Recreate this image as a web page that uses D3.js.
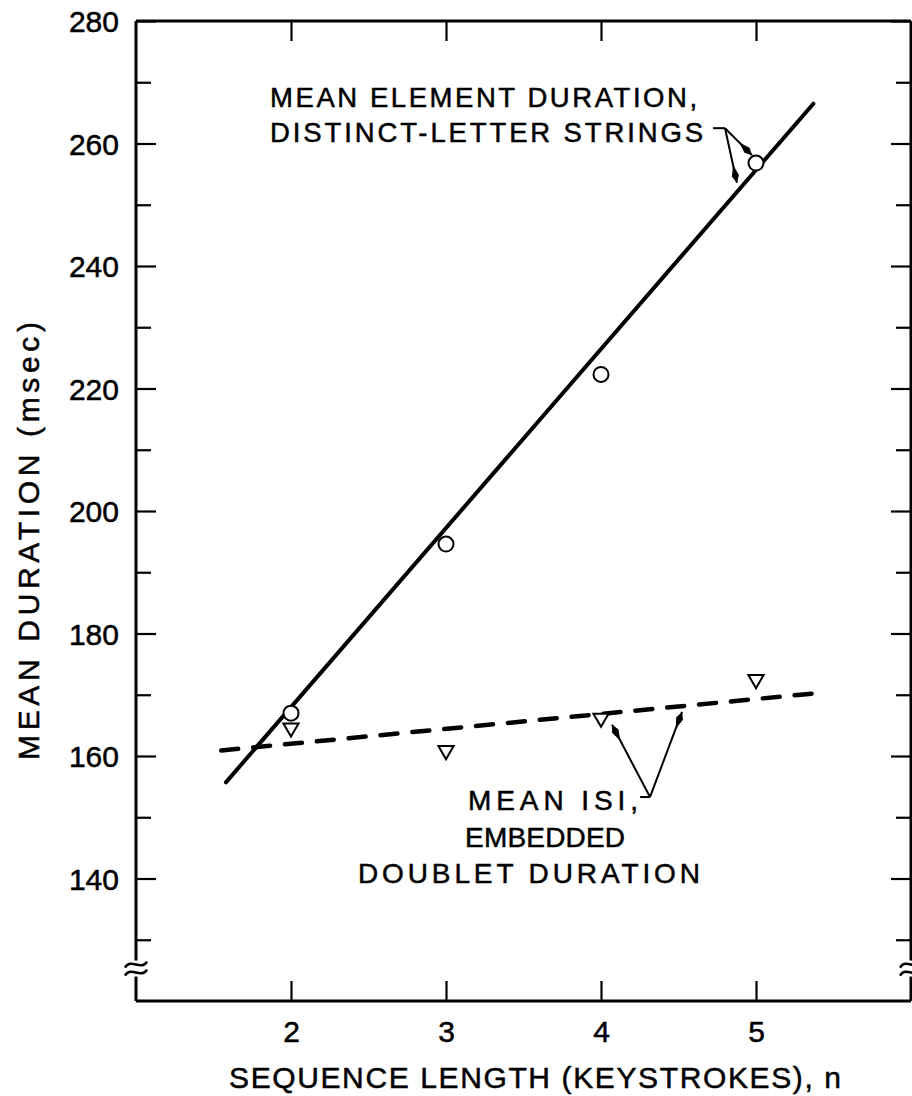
<!DOCTYPE html>
<html>
<head>
<meta charset="utf-8">
<script src="https://cdn.jsdelivr.net/npm/d3@7/dist/d3.min.js"></script>
<style>
html,body{margin:0;padding:0;background:#fff;}
svg{display:block;}
text{font-family:"Liberation Sans",Arial,Helvetica,sans-serif;fill:#000;stroke:#000;stroke-width:0.5px;}
</style>
</head>
<body>
<svg id="chart" width="912" height="1096"></svg>
<script>
// ---- data ----
const seqLength = [2, 3, 4, 5];
const elementDuration = [167.0, 194.6, 222.3, 256.8];   // circles
const isiDuration = [164.6, 160.9, 166.2, 172.5];       // triangles
const elementFit = [[1.58, 155.7], [5.37, 266.5]];      // solid regression line
const isiFit = [[1.55, 160.9], [5.41, 170.3]];          // dashed regression line
const yMajorTicks = [140, 160, 180, 200, 220, 240, 260, 280];
const yMinorTicks = [130, 150, 170, 190, 210, 230, 250, 270];
const xTicks = [2, 3, 4, 5];
const yTitle = "MEAN DURATION (msec)";
const xTitle = "SEQUENCE LENGTH (KEYSTROKES), n";
const labelElement = ["MEAN ELEMENT DURATION,", "DISTINCT-LETTER STRINGS"];
const labelIsi = ["MEAN ISI,", "EMBEDDED", "DOUBLET DURATION"];

// ---- layout ----
const svg = d3.select("#chart");
const x = d3.scaleLinear().domain([1, 6]).range([136, 911]);
const y = d3.scaleLinear().domain([120, 280]).range([1001, 21]);
const X0 = x(1), X1 = x(6), Y0 = y(120), Y1 = y(280);

// frame
const frame = svg.append("g").attr("stroke", "#000").attr("stroke-width", 3).attr("fill", "none");
frame.append("line").attr("x1", X0).attr("x2", X1).attr("y1", Y1).attr("y2", Y1);
frame.append("line").attr("x1", X0).attr("x2", X1).attr("y1", Y0).attr("y2", Y0);
frame.append("line").attr("x1", X0).attr("x2", X0).attr("y1", Y1).attr("y2", Y0);
frame.append("line").attr("x1", X1).attr("x2", X1).attr("y1", Y1).attr("y2", Y0);

function styleAxis(g) {
  g.select(".domain").remove();
  g.selectAll(".tick line").attr("stroke", "#000").attr("stroke-width", 2.2);
}
const tickFont = g => g.selectAll(".tick text").attr("font-size", 30)
  .attr("font-family", "Liberation Sans, Arial, sans-serif")
  .attr("stroke", "#000").attr("stroke-width", 0.5);
// left
svg.append("g").attr("transform", `translate(${X0},0)`)
  .call(d3.axisLeft(y).tickValues(yMajorTicks).tickSize(-20).tickPadding(17).tickFormat(d3.format("d")))
  .call(styleAxis).call(tickFont)
  .call(g => g.selectAll(".tick text").attr("dy", "0.36em"));
svg.append("g").attr("transform", `translate(${X0},0)`)
  .call(d3.axisLeft(y).tickValues(yMinorTicks).tickSize(-15).tickFormat(""))
  .call(styleAxis);
// right
svg.append("g").attr("transform", `translate(${X1},0)`)
  .call(d3.axisRight(y).tickValues(yMajorTicks).tickSize(-20).tickFormat(""))
  .call(styleAxis);
svg.append("g").attr("transform", `translate(${X1},0)`)
  .call(d3.axisRight(y).tickValues(yMinorTicks).tickSize(-15).tickFormat(""))
  .call(styleAxis);
// bottom
svg.append("g").attr("transform", `translate(0,${Y0})`)
  .call(d3.axisBottom(x).tickValues(xTicks).tickSize(-20).tickPadding(38).tickFormat(d3.format("d")))
  .call(styleAxis).call(tickFont)
  .call(g => g.selectAll(".tick text").attr("dy", "0.1em"));
// top
svg.append("g").attr("transform", `translate(0,${Y1})`)
  .call(d3.axisTop(x).tickValues(xTicks).tickSize(-20).tickFormat(""))
  .call(styleAxis);

// axis break squiggles
function squiggle(cx, cy) {
  const p = d3.path();
  for (const off of [-4, 4]) {
    p.moveTo(cx - 11, cy + off + 3);
    p.bezierCurveTo(cx - 5, cy + off - 7, cx + 5, cy + off + 7, cx + 11, cy + off - 3);
  }
  return p.toString();
}
const breakVal = 125.3;
svg.append("rect").attr("x", X0 - 2).attr("y", y(breakVal) - 8).attr("width", 4).attr("height", 16).attr("fill", "#fff");
svg.append("rect").attr("x", X1 - 2).attr("y", y(breakVal) - 8).attr("width", 4).attr("height", 16).attr("fill", "#fff");
svg.append("path").attr("d", squiggle(X0, y(breakVal))).attr("fill", "none").attr("stroke", "#000").attr("stroke-width", 2.5);
svg.append("path").attr("d", squiggle(X1, y(breakVal))).attr("fill", "none").attr("stroke", "#000").attr("stroke-width", 2.5);

// regression lines
const line = d3.line().x(d => x(d[0])).y(d => y(d[1]));
svg.append("path").datum(elementFit).attr("d", line)
  .attr("fill", "none").attr("stroke", "#000").attr("stroke-width", 4).attr("stroke-linecap", "round");
svg.append("path").datum(isiFit).attr("d", line)
  .attr("fill", "none").attr("stroke", "#000").attr("stroke-width", 4.5)
  .attr("stroke-dasharray", "17,15").attr("stroke-linecap", "round");

// markers: circles
svg.append("g").selectAll("circle").data(seqLength).join("circle")
  .attr("cx", d => x(d)).attr("cy", (d, i) => y(elementDuration[i]))
  .attr("r", 7.5).attr("fill", "#fff").attr("stroke", "#000").attr("stroke-width", 2);
// markers: inverted triangles
const tri = d3.symbol().type(d3.symbolTriangle).size(100);
svg.append("g").selectAll("path").data(seqLength).join("path")
  .attr("transform", (d, i) => `translate(${x(d)},${y(isiDuration[i])}) rotate(180)`)
  .attr("d", tri).attr("fill", "#fff").attr("stroke", "#000").attr("stroke-width", 2);

// arrowhead marker
svg.append("defs").append("marker")
  .attr("id", "arr").attr("markerUnits", "userSpaceOnUse")
  .attr("viewBox", "-20 -5 22 10").attr("refX", 0).attr("refY", 0)
  .attr("markerWidth", 22).attr("markerHeight", 10).attr("orient", "auto")
  .append("path").attr("d", "M0,0 L-7,-3.6 L-18,0 L-7,3.6 Z").attr("fill", "#000");

// annotations (data coordinates)
const elemLeader = { from: [4.723, 262.5], elbow: [4.80, 262.5], tips: [[4.974, 258.1], [4.877, 253.6]] };
const isiLeader = { from: [4.252, 153.3], elbow: [4.316, 153.3], tips: [[4.071, 165.1], [4.523, 167.2]] };
function leader(L) {
  const g = svg.append("g").attr("stroke", "#000").attr("stroke-width", 2).attr("fill", "none");
  g.append("line").attr("x1", x(L.from[0])).attr("y1", y(L.from[1])).attr("x2", x(L.elbow[0])).attr("y2", y(L.elbow[1]));
  L.tips.forEach(t => g.append("line")
    .attr("x1", x(L.elbow[0])).attr("y1", y(L.elbow[1])).attr("x2", x(t[0])).attr("y2", y(t[1]))
    .attr("marker-end", "url(#arr)"));
}
leader(elemLeader);
leader(isiLeader);

// annotation texts: [x, baseline value, width]
const elemPos = [[1.865, 266.0, 427], [1.865, 260.3, 433]];
const isiPos = [[3.142, 151.2, 170], [3.123, 145.1, 160], [2.432, 139.3, 342]];
labelElement.forEach((t, i) => svg.append("text")
  .attr("x", x(elemPos[i][0])).attr("y", y(elemPos[i][1]))
  .attr("font-size", 27.5).attr("textLength", elemPos[i][2]).attr("lengthAdjust", "spacing").text(t));
labelIsi.forEach((t, i) => svg.append("text")
  .attr("x", x(isiPos[i][0])).attr("y", y(isiPos[i][1]))
  .attr("font-size", 28).attr("textLength", isiPos[i][2]).attr("lengthAdjust", "spacing").text(t));

// axis titles
svg.append("text").attr("transform", `translate(39,541) rotate(-90)`)
  .attr("text-anchor", "middle").attr("font-size", 30)
  .attr("textLength", 438).attr("lengthAdjust", "spacing").text(yTitle);
svg.append("text").attr("x", 535).attr("y", 1088)
  .attr("text-anchor", "middle").attr("font-size", 30)
  .attr("textLength", 612).attr("lengthAdjust", "spacing").text(xTitle);
</script>
</body>
</html>
